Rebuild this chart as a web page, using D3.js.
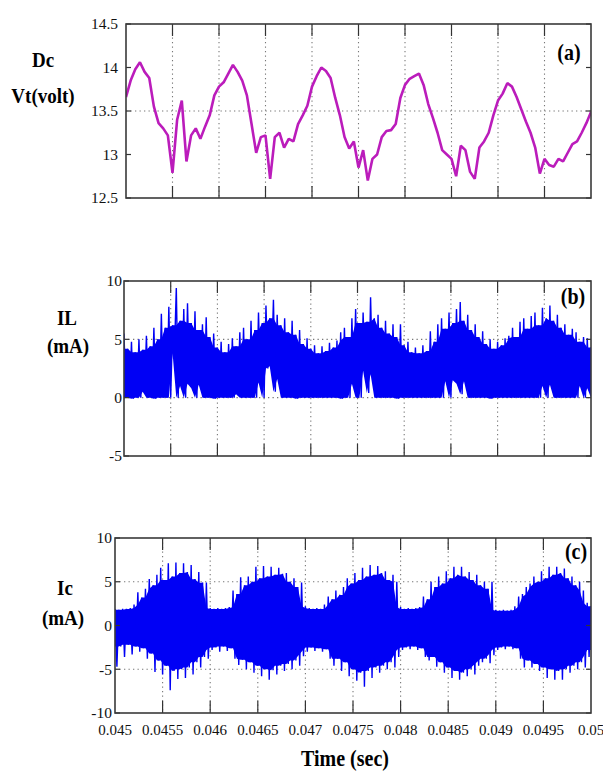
<!DOCTYPE html>
<html>
<head>
<meta charset="utf-8">
<script src="https://cdn.jsdelivr.net/npm/d3@7"></script>
<style>
  body { margin: 0; background: #fff; }
  svg { display: block; font-family: "Liberation Serif", "Times New Roman", serif; }
</style>
</head>
<body>
<svg id="chart" width="603" height="775"></svg>
<script>
/* Three stacked scope traces: DC terminal voltage, load current, capacitor current. */

const T0 = 0.045, T1 = 0.05;
const xTicks = [0.045, 0.0455, 0.046, 0.0465, 0.047, 0.0475, 0.048, 0.0485, 0.049, 0.0495, 0.05];
const xTickLabels = ['0.045', '0.0455', '0.046', '0.0465', '0.047', '0.0475', '0.048', '0.0485', '0.049', '0.0495', '0.05'];

// (a) Dc Vt, sampled every 50 us
const dcStep = 0.00005;
const dcVolt = [
  13.66, 13.85, 13.98, 14.06, 13.95, 13.88, 13.55, 13.36, 13.30, 13.22,
  12.79, 13.40, 13.62, 12.92, 13.22, 13.30, 13.18, 13.32, 13.45, 13.68,
  13.78, 13.83, 13.93, 14.03, 13.95, 13.85, 13.68, 13.35, 13.02, 13.20,
  13.22, 12.72, 13.20, 13.25, 13.08, 13.18, 13.15, 13.35, 13.45, 13.56,
  13.78, 13.90, 14.00, 13.96, 13.88, 13.65, 13.45, 13.20, 13.07, 13.15,
  12.85, 13.05, 12.70, 12.95, 13.00, 13.20, 13.27, 13.28, 13.35, 13.65,
  13.80, 13.87, 13.90, 13.93, 13.80, 13.58, 13.42, 13.25, 13.05, 13.00,
  12.95, 12.75, 13.10, 13.05, 12.80, 12.72, 13.08, 13.15, 13.25, 13.45,
  13.62, 13.70, 13.82, 13.78, 13.66, 13.52, 13.38, 13.25, 13.08, 12.78,
  12.95, 12.88, 12.86, 12.95, 12.92, 13.02, 13.12, 13.15, 13.25, 13.36,
  13.49
];

// (b) IL and (c) Ic: swing peaks / troughs every 40 us
const iStep = 0.00004;
const ilHigh = [
  5.5, 4.2, 4.8, 3.9, 5.0, 4.1, 5.3, 4.4, 6.0, 5.0,
  7.2, 6.0, 7.8, 6.2, 9.4, 6.6, 7.6, 8.1, 6.4, 7.4,
  5.8, 6.3, 6.9, 5.2, 5.5, 4.3, 4.8, 3.9, 4.6, 5.1,
  4.4, 5.6, 6.0, 5.0, 6.6, 5.8, 7.3, 6.4, 7.9, 6.8,
  8.4, 7.1, 6.2, 6.8, 5.6, 6.6, 5.4, 5.8, 4.6, 5.1,
  4.2, 4.5, 3.8, 4.4, 4.0, 4.7, 4.3, 4.9, 5.6, 6.0,
  5.2, 6.8, 7.6, 6.4, 7.3, 6.5, 8.6, 6.8, 7.1, 6.0,
  6.6, 5.5, 6.3, 5.2, 6.3, 4.5, 4.8, 3.9, 4.3, 3.8,
  4.5, 4.0, 5.7, 4.8, 6.3, 6.8, 5.9, 7.3, 6.4, 7.6,
  8.2, 6.6, 7.1, 5.8, 6.3, 5.2, 5.7, 4.6, 5.0, 4.2,
  4.8, 4.5, 5.1, 5.3, 6.0, 5.2, 6.5, 6.8, 5.9, 7.0,
  7.3, 6.2, 7.7, 6.8, 7.9, 6.6, 7.1, 6.0, 6.3, 5.4,
  5.9, 5.6, 4.8, 5.2, 5.1, 4.3
];
const ilLow = [
  0, 0, -0.1, 0, 0, 0.5, 0, 0, -0.1, 0,
  0, 0, 0, 3.8, 0, 1.0, 0, 1.2, 0.8, 0,
  1.1, 0, 0, 0, -0.1, 0, 0, 0, 0, 0,
  0.3, 0, 0, 0, 0, 0, 1.3, 0, 2.5, 2.7,
  0.5, 1.6, 0, 0, 0, 0, -0.1, 0, 0, 0,
  0, 0, 0, 0, 0, 0, 0, 0, -0.1, 0,
  0, 1.2, 0, 0, 2.3, 0.4, 2.0, 0, 0, 0,
  0, 0, 0, -0.1, 0, 0, 0, 0, 0, 0,
  0, 0, 0, 0, 0, 0, 1.4, 0, 1.5, 1.2,
  0.3, 1.4, 0, 0, 0, 0, 0, 0, -0.1, 0,
  0, 0, 0, 0, 0, 0, 0, 0, 0, 0,
  0, 0, 1.0, 0, 1.1, 0, 0, 0, 0, 0,
  0, 0, 1.0, 0, 0.8, 0
];
const icHigh = [
  1.9, 1.8, 1.9, 1.9, 2.0, 2.4, 3.8, 3.2, 4.2, 5.3,
  4.6, 5.8, 6.6, 5.2, 7.1, 5.6, 7.2, 6.0, 7.1, 6.1,
  6.9, 5.3, 6.1, 4.9, 4.9, 2.0, 1.9, 2.0, 1.9, 2.0,
  2.1, 4.0, 3.6, 5.5, 4.6, 5.6, 5.0, 6.7, 5.4, 6.8,
  5.6, 6.7, 5.8, 6.6, 5.9, 6.0, 5.0, 5.4, 4.4, 4.9,
  2.2, 2.0, 1.9, 2.0, 1.9, 2.4, 3.3, 3.0, 4.0, 3.5,
  4.4, 5.4, 4.8, 6.0, 5.2, 6.6, 5.6, 6.9, 5.8, 6.8,
  6.0, 6.2, 5.2, 5.8, 5.0, 2.1, 1.9, 2.0, 1.9, 2.0,
  2.1, 3.3, 3.0, 5.0, 4.4, 5.6, 4.8, 6.2, 5.4, 6.7,
  5.8, 6.7, 5.6, 6.1, 5.2, 5.8, 4.6, 5.0, 4.2, 5.0,
  1.8, 1.7, 1.8, 1.7, 1.8, 2.2, 3.3, 3.6, 4.4, 4.8,
  5.6, 5.0, 6.2, 5.4, 6.7, 5.8, 6.7, 6.0, 6.5, 5.4,
  5.6, 4.6, 5.0, 4.0, 2.6, 2.2
];
const icLow = [
  -4.7, -2.4, -3.6, -2.2, -3.3, -2.4, -3.0, -2.6, -3.8, -3.2,
  -5.3, -4.0, -5.6, -4.6, -7.4, -5.2, -6.1, -5.0, -6.0, -4.8,
  -5.6, -4.2, -4.8, -3.6, -3.8, -2.8, -2.5, -3.0, -2.4, -2.9,
  -2.6, -3.8, -4.5, -3.9, -5.0, -4.2, -5.4, -4.6, -5.8, -5.0,
  -6.2, -5.1, -5.6, -4.6, -5.2, -4.4, -5.0, -4.0, -4.6, -3.5,
  -3.0, -2.5, -2.9, -2.6, -3.0, -2.7, -3.8, -4.6, -3.8, -5.2,
  -4.2, -5.8, -5.0, -6.3, -5.4, -7.0, -5.2, -6.0, -4.8, -5.4,
  -4.6, -5.0, -4.2, -4.8, -3.6, -2.8, -2.5, -2.7, -2.4, -2.8,
  -2.6, -3.6, -4.0, -3.6, -4.7, -4.2, -5.4, -4.8, -6.0, -5.2,
  -6.2, -5.4, -5.8, -5.0, -5.6, -4.6, -4.2, -3.8, -4.3, -3.4,
  -2.8, -2.5, -2.7, -2.4, -2.7, -2.6, -3.8, -4.8, -4.0, -4.8,
  -4.4, -5.2, -4.8, -6.0, -5.0, -6.2, -5.2, -6.2, -5.0, -5.4,
  -4.6, -5.0, -4.2, -4.8, -3.6, -2.8
];

const yTicksA = [12.5, 13, 13.5, 14, 14.5];
const yLabelsA = ['12.5', '13', '13.5', '14', '14.5'];
const gridA = [13.5];
const yTicksB = [-5, 0, 5, 10];
const yLabelsB = ['-5', '0', '5', '10'];
const gridB = [0, 5];
const yTicksC = [-10, -5, 0, 5, 10];
const yLabelsC = ['-10', '-5', '0', '5', '10'];
const gridC = [-5, 0, 5];

const svg = d3.select('#chart')
  .attr('font-family', '"Liberation Serif", "Times New Roman", serif');
let clipId = 0;

function panel(cfg) {
  const x = d3.scaleLinear().domain([T0, T1]).range([cfg.left, cfg.right]);
  const y = d3.scaleLinear().domain(cfg.yDomain).range([cfg.bottom, cfg.top]);
  const g = svg.append('g');
  const id = 'clip' + (clipId++);
  svg.append('clipPath').attr('id', id)
    .append('rect')
    .attr('x', cfg.left).attr('y', cfg.top)
    .attr('width', cfg.right - cfg.left).attr('height', cfg.bottom - cfg.top);

  // dotted grid
  g.selectAll('line.vg').data(xTicks.slice(1, -1)).enter().append('line')
    .attr('x1', (d) => x(d)).attr('x2', (d) => x(d))
    .attr('y1', cfg.top).attr('y2', cfg.bottom)
    .attr('stroke', '#777').attr('stroke-width', 1.1).attr('stroke-dasharray', '1.3,3.2');
  g.selectAll('line.hg').data(cfg.grid).enter().append('line')
    .attr('y1', (d) => y(d)).attr('y2', (d) => y(d))
    .attr('x1', cfg.left).attr('x2', cfg.right)
    .attr('stroke', '#777').attr('stroke-width', 1.1).attr('stroke-dasharray', '1.3,3.2');

  // solid core of the swing (neighbour min/max), spikes drawn on top
  if (cfg.band) {
    g.append('path').datum(cfg.band)
      .attr('clip-path', `url(#${id})`)
      .attr('fill', cfg.color)
      .attr('d', d3.area().x((d) => x(d[0])).y0((d) => y(d[2])).y1((d) => y(d[1])));
  }

  // trace
  g.append('path').datum(cfg.points)
    .attr('clip-path', `url(#${id})`)
    .attr('fill', 'none')
    .attr('stroke', cfg.color)
    .attr('stroke-width', cfg.width)
    .attr('stroke-linejoin', 'bevel')
    .attr('d', d3.line().x((d) => x(d[0])).y((d) => y(d[1])));

  // inward ticks
  const tk = g.append('g').attr('stroke', '#333').attr('stroke-width', 1.2);
  xTicks.slice(1, -1).forEach((t) => {
    tk.append('line').attr('x1', x(t)).attr('x2', x(t)).attr('y1', cfg.bottom).attr('y2', cfg.bottom - 12);
    tk.append('line').attr('x1', x(t)).attr('x2', x(t)).attr('y1', cfg.top).attr('y2', cfg.top + 12);
  });
  cfg.yTicks.forEach((v) => {
    tk.append('line').attr('y1', y(v)).attr('y2', y(v)).attr('x1', cfg.left).attr('x2', cfg.left + 5);
    tk.append('line').attr('y1', y(v)).attr('y2', y(v)).attr('x1', cfg.right).attr('x2', cfg.right - 5);
  });

  // box
  g.append('rect')
    .attr('x', cfg.left).attr('y', cfg.top)
    .attr('width', cfg.right - cfg.left).attr('height', cfg.bottom - cfg.top)
    .attr('fill', 'none').attr('stroke', '#3a3a3a').attr('stroke-width', 1.6);

  // y tick labels
  g.selectAll('text.yl').data(cfg.yTicks).enter().append('text')
    .attr('x', cfg.left - cfg.labelGap).attr('y', (d) => y(d))
    .attr('dy', '0.35em').attr('text-anchor', 'end')
    .attr('font-size', 15.5).attr('fill', '#111')
    .text((d, i) => cfg.yLabels[i]);

  // panel tag
  g.append('text')
    .attr('transform', `translate(${cfg.tag[1]},${cfg.tag[2]}) scale(1,1.15)`)
    .attr('text-anchor', 'middle').attr('font-size', 20).attr('font-weight', 'bold')
    .text(cfg.tag[0]);

  // side label lines
  cfg.title.forEach((t) => {
    g.append('text')
      .attr('transform', `translate(${t[1]},${t[2]}) scale(1,1.15)`)
      .attr('text-anchor', 'middle').attr('font-size', 19).attr('font-weight', 'bold')
      .text(t[0]);
  });

  return x;
}

function zigzag(hi, lo) {
  return hi.flatMap((h, i) => [[T0 + i * iStep, h], [T0 + (i + 0.5) * iStep, lo[i]]]);
}
// lowWindow: also take the neighbour max of the troughs (false keeps troughs as read)
function core(hi, lo, lowWindow) {
  return hi.map((h, i) => {
    const a = Math.max(0, i - 1), b = Math.min(hi.length, i + 2);
    return [T0 + i * iStep, d3.min(hi.slice(a, b)), lowWindow ? d3.max(lo.slice(a, b)) : lo[i]];
  });
}

panel({
  left: 126, right: 591, top: 24, bottom: 198,
  yDomain: [12.5, 14.5], yTicks: yTicksA, yLabels: yLabelsA, grid: gridA, labelGap: 8,
  points: dcVolt.map((v, i) => [T0 + i * dcStep, v]),
  color: '#bb1cbb', width: 2.6,
  tag: ['(a)', 569, 60],
  title: [['Dc', 43, 67], ['Vt(volt)', 43, 103]]
});

panel({
  left: 124, right: 591, top: 281, bottom: 456,
  yDomain: [-5, 10], yTicks: yTicksB, yLabels: yLabelsB, grid: gridB, labelGap: 2,
  points: zigzag(ilHigh, ilLow),
  band: core(ilHigh, ilLow, false),
  color: '#0000f5', width: 1.4,
  tag: ['(b)', 573, 304],
  title: [['IL', 67, 325], ['(mA)', 68, 353]]
});

const xC = panel({
  left: 115, right: 591, top: 538, bottom: 713,
  yDomain: [-10, 10], yTicks: yTicksC, yLabels: yLabelsC, grid: gridC, labelGap: 3,
  points: zigzag(icHigh, icLow),
  band: core(icHigh, icLow, true),
  color: '#0000f5', width: 1.4,
  tag: ['(c)', 576, 559],
  title: [['Ic', 65, 595], ['(mA)', 63, 625]]
});

// time axis labels under the last panel
svg.append('g').selectAll('text').data(xTicks).enter().append('text')
  .attr('x', (d) => xC(d)).attr('y', 735)
  .attr('text-anchor', 'middle').attr('font-size', 15).attr('fill', '#111')
  .text((d, i) => xTickLabels[i]);

svg.append('text')
  .attr('transform', 'translate(345,766) scale(1,1.2)')
  .attr('text-anchor', 'middle').attr('font-size', 20).attr('font-weight', 'bold')
  .text('Time (sec)');
</script>
</body>
</html>
